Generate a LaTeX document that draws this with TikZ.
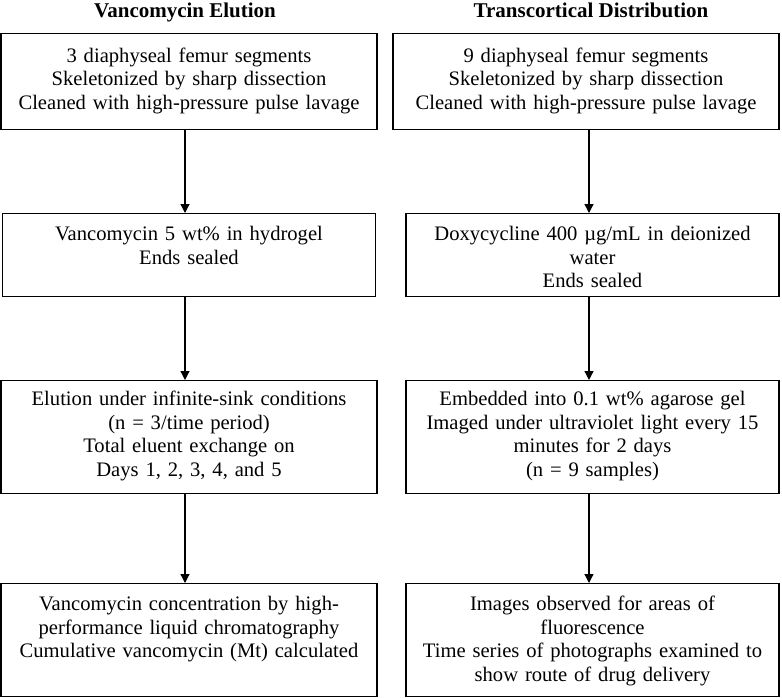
\documentclass[tikz,border=0pt]{standalone}
\usepackage{fontspec}
\setmainfont{Liberation Serif}
\usetikzlibrary{arrows.meta}

\begin{document}
\begin{tikzpicture}[x=1pt,y=1pt,
  box/.style={draw,line width=1.2pt,anchor=north,align=center,inner xsep=3pt,inner ysep=0pt,
    font=\fontsize{20.6}{23.5}\selectfont},
  arr/.style={line width=1.2pt,-{Triangle[length=9pt,width=9pt]}},
  head/.style={anchor=base,font=\fontsize{21}{24}\selectfont\bfseries}]
\useasboundingbox (0,0) rectangle (782,-697);
\node[head] (tl) at (185,-17.5) {Vancomycin Elution};
\node[head] (tr) at (591,-17.5) {Transcortical Distribution};
\node[box,text width=370pt,text height=28.5pt,text depth=67.5pt] (l1) at (189,-33)
  {3 diaphyseal femur segments\\Skeletonized by sharp dissection\\Cleaned with high-pressure pulse lavage};
\node[box,text width=380pt,text height=28.5pt,text depth=67.5pt] (r1) at (586,-33)
  {9 diaphyseal femur segments\\Skeletonized by sharp dissection\\Cleaned with high-pressure pulse lavage};
\node[box,text width=367pt,text height=27pt,text depth=56pt] (l2) at (189,-213)
  {Vancomycin 5 wt\% in hydrogel\\Ends sealed};
\node[box,text width=367pt,text height=27pt,text depth=56pt] (r2) at (592.5,-213)
  {Doxycycline 400 µg/mL in deionized\\water\\Ends sealed};
\node[box,text width=370pt,text height=25pt,text depth=88pt] (l3) at (189,-380)
  {Elution under infinite-sink conditions\\(n = 3/time period)\\Total eluent exchange on\\Days 1, 2, 3, 4, and 5};
\node[box,text width=367pt,text height=25pt,text depth=88pt] (r3) at (592.5,-380)
  {Embedded into 0.1 wt\% agarose gel\\Imaged under ultraviolet light every 15\\minutes for 2 days\\(n = 9 samples)};
\node[box,text width=370pt,text height=27pt,text depth=86pt] (l4) at (189,-583)
  {Vancomycin concentration by high-\\performance liquid chromatography\\Cumulative vancomycin (Mt) calculated};
\node[box,text width=367pt,text height=27pt,text depth=86pt] (r4) at (592.5,-583)
  {Images observed for areas of\\fluorescence\\Time series of photographs examined to\\show route of drug delivery};
\draw[arr] ([xshift=-4pt]l1.south) -- ([xshift=-4pt]l2.north);
\draw[arr] ([xshift=-4pt]l2.south) -- ([xshift=-4pt]l3.north);
\draw[arr] ([xshift=-4pt]l3.south) -- ([xshift=-4pt]l4.north);
\draw[arr] ([xshift=3pt]r1.south) -- ([xshift=-3.5pt]r2.north);
\draw[arr] ([xshift=-3.5pt]r2.south) -- ([xshift=-3.5pt]r3.north);
\draw[arr] ([xshift=-3.5pt]r3.south) -- ([xshift=-3.5pt]r4.north);
\end{tikzpicture}
\end{document}
